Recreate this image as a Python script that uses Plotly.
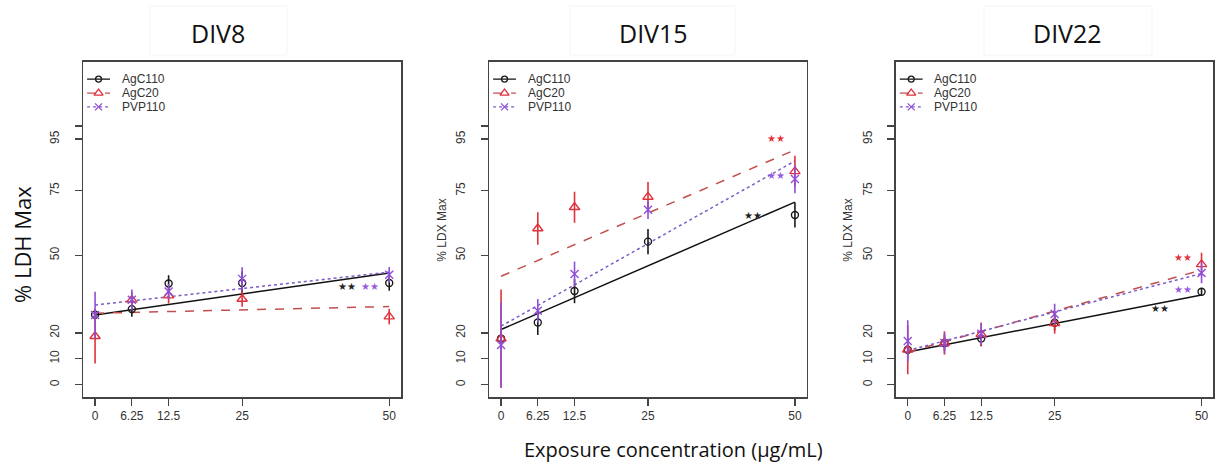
import plotly.graph_objects as go

# ---------------- data ----------------
conc = [0, 6.25, 12.5, 25, 50]
tick_labels_x = ["0", "6.25", "12.5", "25", "50"]
y_tickvals = [0, 10, 20, 50, 75, 95, 100]
y_ticktext = ["0", "10", "20", "50", "75", "95", ""]
series_names = ["AgC110", "AgC20", "PVP110"]
panel_titles = ["DIV8", "DIV15", "DIV22"]

# DIV8
div8_agc110 = [27.0, 29.2, 39.1, 39.3, 39.3]
div8_agc110_err = [2.0, 3.0, 3.2, 4.5, 3.0]
div8_agc20 = [18.7, 32.8, 34.4, 33.1, 26.3]
div8_agc20_err = [10.5, 3.0, 3.0, 3.0, 3.0]
div8_pvp110 = [26.9, 32.8, 36.0, 40.9, 42.5]
div8_pvp110_err = [9.0, 4.0, 3.0, 4.5, 3.0]

# DIV15
div15_agc110 = [17.8, 24.0, 36.2, 55.3, 65.6]
div15_agc110_err = [3.0, 4.8, 4.7, 4.9, 4.8]
div15_agc20 = [17.8, 60.4, 68.6, 72.6, 82.5]
div15_agc20_err = [19.0, 6.3, 6.0, 5.8, 6.0]
div15_pvp110 = [15.3, 28.6, 42.8, 67.6, 79.5]
div15_pvp110_err = [16.5, 4.5, 4.8, 3.5, 5.5]

# DIV22
div22_agc110 = [13.5, 16.1, 17.8, 23.9, 35.9]
div22_agc110_err = [2.0, 3.0, 3.0, 3.0, 1.5]
div22_agc20 = [13.5, 16.1, 19.5, 23.7, 46.5]
div22_agc20_err = [9.5, 4.5, 4.5, 4.0, 4.5]
div22_pvp110 = [16.9, 16.1, 19.7, 27.3, 43.2]
div22_pvp110_err = [8.0, 4.0, 4.0, 4.0, 4.0]

# fitted regression lines (values at first and last concentration)
fit_x = [0, 50]
div8_fit = {"AgC110": [26.9, 43.2], "AgC20": [27.6, 30.2], "PVP110": [30.8, 43.5]}
div15_fit = {"AgC110": [21.3, 70.6], "AgC20": [41.9, 90.8], "PVP110": [22.6, 86.5]}
div22_fit = {"AgC110": [12.6, 34.7], "AgC20": [12.6, 44.3], "PVP110": [13.2, 43.0]}

# significance markers (series, concentration position, level)
div8_sig = [("AgC110", 42.9, 38.1), ("PVP110", 46.8, 38.1)]
div15_sig = [("AgC20", 46.8, 95.4), ("PVP110", 46.8, 81.0), ("AgC110", 42.9, 65.4)]
div22_sig = [("AgC20", 46.8, 49.3), ("PVP110", 46.8, 36.7), ("AgC110", 42.9, 29.5)]

panels = [
    {"means": {"AgC110": div8_agc110, "AgC20": div8_agc20, "PVP110": div8_pvp110},
     "errs": {"AgC110": div8_agc110_err, "AgC20": div8_agc20_err, "PVP110": div8_pvp110_err},
     "fit": div8_fit, "sig": div8_sig},
    {"means": {"AgC110": div15_agc110, "AgC20": div15_agc20, "PVP110": div15_pvp110},
     "errs": {"AgC110": div15_agc110_err, "AgC20": div15_agc20_err, "PVP110": div15_pvp110_err},
     "fit": div15_fit, "sig": div15_sig},
    {"means": {"AgC110": div22_agc110, "AgC20": div22_agc20, "PVP110": div22_pvp110},
     "errs": {"AgC110": div22_agc110_err, "AgC20": div22_agc20_err, "PVP110": div22_pvp110_err},
     "fit": div22_fit, "sig": div22_sig},
]

# ---------------- styles ----------------
W, H = 1219, 466
marker_color = {"AgC110": "#1a1a1a", "AgC20": "#e0313c", "PVP110": "#8f4fd8"}
line_color = {"AgC110": "#111111", "AgC20": "#c0504d", "PVP110": "#7b5cc8"}
star_color = {"AgC110": "#222222", "AgC20": "#e0313c", "PVP110": "#9a5ae0"}
dash = {"AgC110": "solid", "AgC20": "dash", "PVP110": "dot"}
symbol = {"AgC110": "circle-open", "AgC20": "triangle-up-open", "PVP110": "x-thin-open"}
msize = {"AgC110": 7, "AgC20": 9, "PVP110": 8}

x_domains = [(83.3 / W, 401 / W), (489.3 / W, 806.7 / W), (896 / W, 1213.3 / W)]
y_domain = (1 - 397 / H, 1 - 62 / H)
tick_font = dict(family="Liberation Sans, Arial", size=12, color="#333333")

fig = go.Figure()
layout = dict(
    width=W, height=H, margin=dict(l=0, r=0, t=0, b=0, pad=0),
    paper_bgcolor="white", plot_bgcolor="white", showlegend=False,
)
annotations = []
shapes = []

for i, p in enumerate(panels):
    n = i + 1
    xa = "x" if n == 1 else f"x{n}"
    ya = "y" if n == 1 else f"y{n}"
    ln = n + 3
    xl, yl = f"x{ln}", f"y{ln}"
    key = "" if n == 1 else str(n)

    layout[f"xaxis{key}"] = dict(
        domain=list(x_domains[i]), anchor=ya, range=[-2, 52],
        tickvals=conc, ticktext=tick_labels_x, tickfont=tick_font,
        ticks="outside", ticklen=7, tickwidth=1.3, tickcolor="#444",
        showline=True, mirror=True, linecolor="#444", linewidth=1.6,
        showgrid=False, zeroline=False, fixedrange=True,
    )
    layout[f"yaxis{key}"] = dict(
        domain=list(y_domain), anchor=xa, range=[-4.8, 124.8],
        tickvals=y_tickvals, ticktext=y_ticktext, tickfont=tick_font, tickangle=-90,
        ticks="outside", ticklen=7, tickwidth=1.3, tickcolor="#444",
        ticklabelstandoff=11,
        showline=True, mirror=True, linecolor="#444", linewidth=1.6,
        showgrid=False, zeroline=False, fixedrange=True,
    )
    # overlay axes for legend keys (fraction of panel)
    layout[f"xaxis{ln}"] = dict(domain=list(x_domains[i]), anchor=yl, overlaying=xa,
                                range=[0, 1], visible=False, fixedrange=True)
    layout[f"yaxis{ln}"] = dict(domain=list(y_domain), anchor=xl, overlaying=ya,
                                range=[0, 1], visible=False, fixedrange=True)

    for s in series_names:
        # fitted line
        fig.add_trace(go.Scatter(
            x=fit_x, y=p["fit"][s], mode="lines", xaxis=xa, yaxis=ya,
            line=dict(color=line_color[s], width=1.5, dash=dash[s]), hoverinfo="skip"))
    for s in series_names:
        fig.add_trace(go.Scatter(
            x=conc, y=p["means"][s], mode="markers", xaxis=xa, yaxis=ya, name=s,
            marker=dict(symbol=symbol[s], size=msize[s], color=marker_color[s],
                        line=dict(width=1.4, color=marker_color[s])),
            error_y=dict(type="data", array=p["errs"][s], visible=True, width=0,
                         thickness=1.6, color=marker_color[s])))
    for s, sx, sy in p["sig"]:
        annotations.append(dict(x=sx, y=sy, xref=xa, yref=ya, text="★★", showarrow=False,
                                font=dict(size=10, color=star_color[s],
                                          family="DejaVu Sans")))

    # legend keys
    rows = [0.949, 0.907, 0.866]
    for s, ry in zip(series_names, rows):
        fig.add_trace(go.Scatter(
            x=[0.012, 0.084], y=[ry, ry], mode="lines", xaxis=xl, yaxis=yl,
            line=dict(color=line_color[s], width=1.4, dash=dash[s]), hoverinfo="skip"))
        fig.add_trace(go.Scatter(
            x=[0.048], y=[ry], mode="markers", xaxis=xl, yaxis=yl,
            marker=dict(symbol=symbol[s], size=msize[s] - 1, color=marker_color[s],
                        line=dict(width=1.3, color=marker_color[s])), hoverinfo="skip"))
        annotations.append(dict(x=0.115, y=ry, xref=xl, yref=yl, text=s, showarrow=False,
                                xanchor="left", yanchor="middle",
                                font=dict(family="Liberation Sans, Arial", size=12,
                                          color="#333333")))

# panel titles with faint frames
title_centers = [218, 654, 1067]
title_boxes = [(150, 287), (570, 735), (984, 1152)]
for t, cx, (bx0, bx1) in zip(panel_titles, title_centers, title_boxes):
    annotations.append(dict(x=cx / W, y=1 - 33 / H, xref="paper", yref="paper", text=t,
                            showarrow=False, xanchor="center", yanchor="middle",
                            font=dict(family="Open Sans", size=25, color="#111111")))
    shapes.append(dict(type="rect", xref="paper", yref="paper",
                       x0=bx0 / W, x1=bx1 / W, y0=1 - 55 / H, y1=1 - 6 / H,
                       line=dict(color="#f4f4f4", width=1), fillcolor="rgba(0,0,0,0)"))

# axis titles
annotations.append(dict(x=22 / W, y=1 - 245 / H, xref="paper", yref="paper", text="% LDH Max",
                        showarrow=False, textangle=-90, xanchor="center", yanchor="middle",
                        font=dict(family="Open Sans", size=22, color="#111111")))
for cx in (441.7, 847.7):
    annotations.append(dict(x=cx / W, y=1 - 230 / H, xref="paper", yref="paper",
                            text="% LDX Max", showarrow=False, textangle=-90,
                            xanchor="center", yanchor="middle",
                            font=dict(family="Liberation Sans, Arial", size=12, color="#333333")))
annotations.append(dict(x=673 / W, y=1 - 449 / H, xref="paper", yref="paper",
                        text="Exposure concentration (µg/mL)", showarrow=False,
                        xanchor="center", yanchor="middle",
                        font=dict(family="Open Sans", size=20, color="#111111")))

layout["annotations"] = annotations
layout["shapes"] = shapes
fig.update_layout(**layout)
fig.write_html("out.html", config={"displayModeBar": False, "staticPlot": True})

# remove default page margins so the figure sits at the window origin
with open("out.html", "r", encoding="utf-8") as f:
    html = f.read()
html = html.replace("<head>", "<head><style>html,body{margin:0;padding:0;overflow:hidden;}</style>", 1)
with open("out.html", "w", encoding="utf-8") as f:
    f.write(html)
